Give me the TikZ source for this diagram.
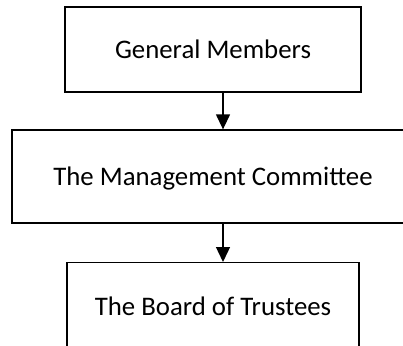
\documentclass[tikz,border=0pt]{standalone}
\usepackage{fontspec}
\setmainfont{Carlito}
\usetikzlibrary{arrows.meta}
\begin{document}
\begin{tikzpicture}[x=1pt, y=-1pt]
\tikzstyle{block} = [rectangle, draw=black, line width=1.3pt, font=\fontsize{26.8}{32}\selectfont, text height=17.3pt, text depth=0pt, inner sep=0pt]
\tikzstyle{link} = [line width=1.3pt, -{Triangle[length=15pt,width=14pt]}]
\useasboundingbox (0,0) rectangle (403,345);
\clip (0,0) rectangle (403,345);
\node (B0) at (213,49.5) [block, minimum width=296pt, minimum height=85pt] {General Members};
\node (B1) at (213,176.5) [block, minimum width=402pt, minimum height=93pt] {The Management Committee};
\node (B2) at (213,262) [block, anchor=north, minimum width=292pt, inner ysep=36pt, text depth=40pt] {The Board of Trustees};
% the arrows run a little right of the box centres
\coordinate (axis) at (223,0);
\draw[link] (B0.south -| axis) -- (B1.north -| axis);
\draw[link] (B1.south -| axis) -- (B2.north -| axis);
\end{tikzpicture}
\end{document}
